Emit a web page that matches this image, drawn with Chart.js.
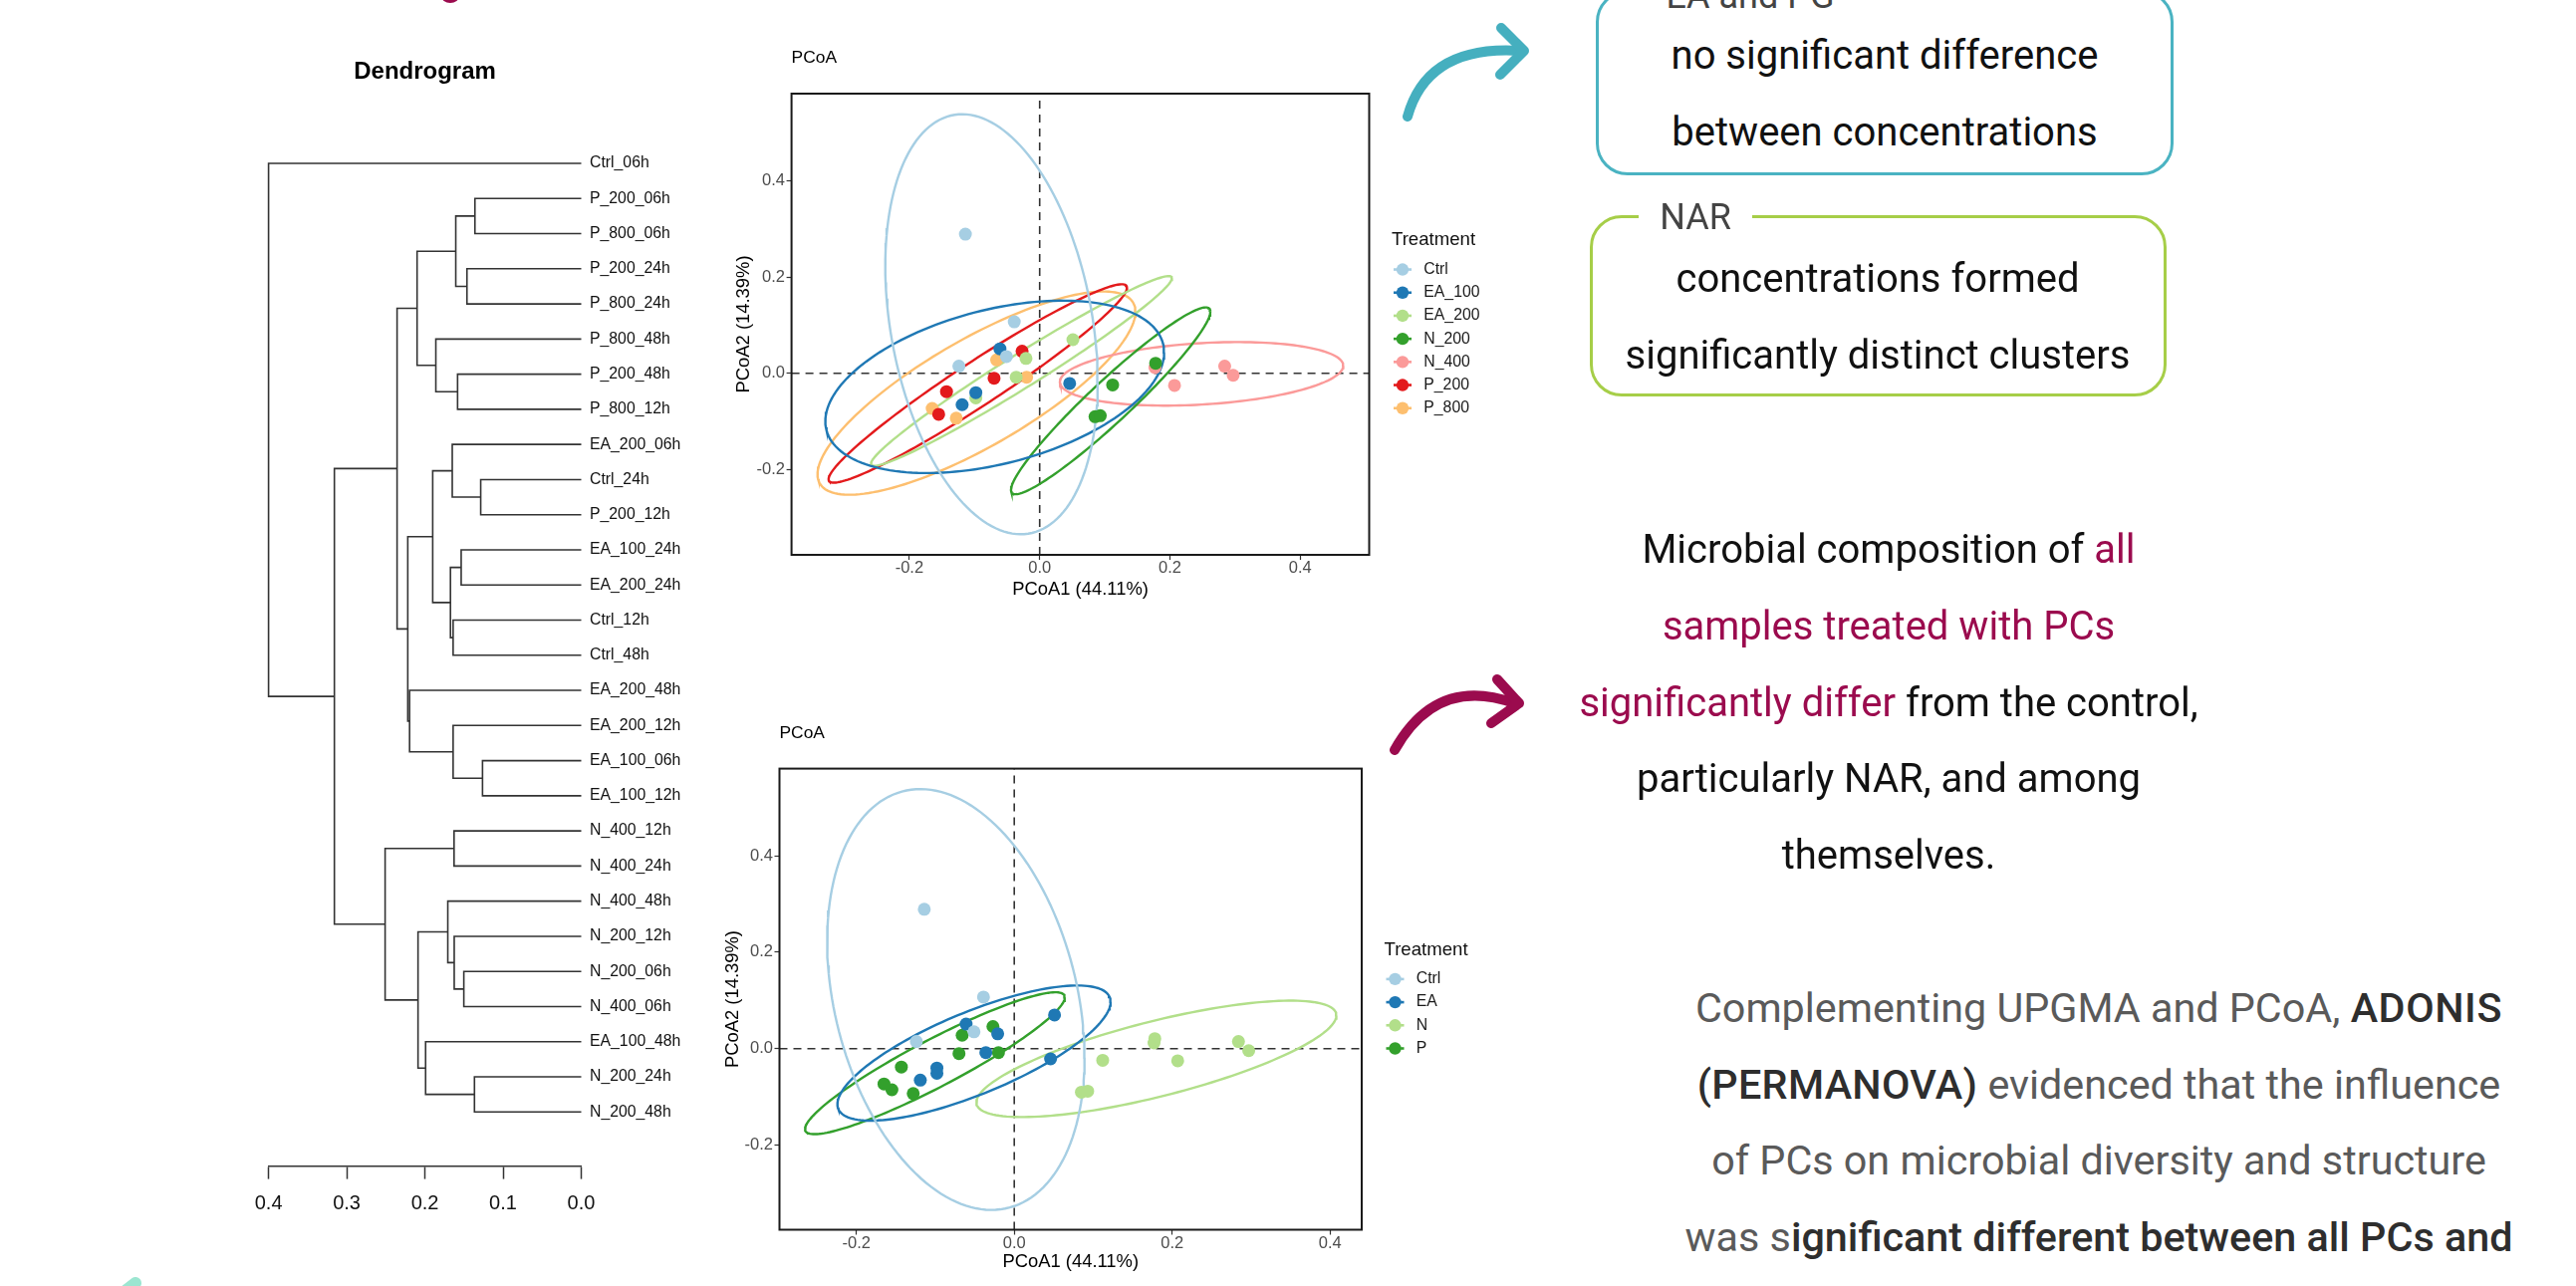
<!DOCTYPE html>
<html><head><meta charset="utf-8">
<script src="https://cdn.jsdelivr.net/npm/chart.js@4.4.1/dist/chart.umd.min.js"></script>
<style>
html,body{margin:0;padding:0;background:#fff;}
body{width:2586px;height:1291px;position:relative;overflow:hidden;font-family:Roboto,"Noto Sans",sans-serif;}
canvas{position:absolute;}
.txt{position:absolute;text-align:center;font-family:Roboto,sans-serif;font-weight:400;font-size:40px;white-space:nowrap;}
.mag{color:#9B0B4E;}
.dk{color:#2e2e2e;font-weight:500;}
.box{position:absolute;box-sizing:border-box;border-radius:32px;}
.lab{position:absolute;text-align:center;font-family:Roboto,sans-serif;font-size:36px;line-height:36px;height:36px;color:#444;background:#fff;white-space:nowrap;}
</style></head>
<body>
<canvas id="dendro" width="700" height="1291" style="left:0;top:0"></canvas>
<canvas id="pcoa1" width="900" height="640" style="left:700px;top:0"></canvas>
<canvas id="pcoa2" width="900" height="651" style="left:700px;top:640px"></canvas>

<div class="box" style="left:1602px;top:-10px;width:580px;height:186px;border:3px solid #4AB3C2;"></div>
<div class="lab" style="left:1652px;top:-22px;width:210px;background:transparent;">EA and PG</div>
<div class="txt" style="left:1612px;width:560px;top:18px;line-height:76.7px;color:#111;">no significant difference<br>between concentrations</div>

<div class="box" style="left:1596px;top:216px;width:579px;height:182px;border:3px solid #A6CE48;"></div>
<div class="lab" style="left:1645px;top:199.7px;width:114px;">NAR</div>
<div class="txt" style="left:1605px;width:560px;top:241px;line-height:77px;color:#111;">concentrations formed<br>significantly distinct clusters</div>

<div class="txt" style="left:1496px;width:800px;top:514px;line-height:76.8px;color:#111;">Microbial composition of <span class="mag">all</span><br><span class="mag">samples treated with PCs</span><br><span class="mag">significantly differ</span> from the control,<br>particularly NAR, and among<br>themselves.</div>

<div class="txt" style="left:1637px;width:940px;top:974px;line-height:76.5px;font-size:41.3px;color:#5a5a5a;">Complementing UPGMA and PCoA, <span class="dk" style="letter-spacing:0.6px">ADONIS</span><br><span class="dk" style="letter-spacing:0.3px">(PERMANOVA)</span> evidenced that the influence<br>of PCs on microbial diversity and structure<br>was s<span class="dk">ignificant different between all PCs and</span></div>

<svg width="2586" height="1291" style="position:absolute;left:0;top:0;pointer-events:none">
  <g fill="none" stroke="#45AFBF" stroke-width="10" stroke-linecap="round" stroke-linejoin="round">
    <path d="M1413,117 Q1433,45 1526,51"/>
    <path d="M1507,28 L1530,51 L1506,75"/>
  </g>
  <g fill="none" stroke="#9B0B4E" stroke-width="10" stroke-linecap="round" stroke-linejoin="round">
    <path d="M1400,753 Q1442,678 1520,706"/>
    <path d="M1503,682 L1525,706 L1497,726"/>
  </g>
  <ellipse cx="452" cy="-4" rx="9" ry="7" fill="#9B0B4E"/>
  <line x1="118" y1="1302" x2="136" y2="1288" stroke="#9CE6D1" stroke-width="12" stroke-linecap="round"/>
</svg>

<script>
// ---------------- DATA ----------------
const leaves = ['Ctrl_06h','P_200_06h','P_800_06h','P_200_24h','P_800_24h','P_800_48h','P_200_48h','P_800_12h',
  'EA_200_06h','Ctrl_24h','P_200_12h','EA_100_24h','EA_200_24h','Ctrl_12h','Ctrl_48h','EA_200_48h','EA_200_12h',
  'EA_100_06h','EA_100_12h','N_400_12h','N_400_24h','N_400_48h','N_200_12h','N_200_06h','N_400_06h','EA_100_48h',
  'N_200_24h','N_200_48h'];
const mergeLeft  = ['EA_100_06h','Ctrl_24h','P_200_06h','N_200_24h','P_200_24h','N_200_06h','EA_100_24h','P_200_48h',
  'm2','N_400_12h','N_200_12h','Ctrl_12h','EA_200_12h','EA_200_06h','m6','N_400_48h','P_800_48h','m13','EA_100_48h',
  'm15','m8','EA_200_48h','m17','m20','m9','m23','Ctrl_06h'];
const mergeRight = ['EA_100_12h','P_200_12h','P_800_06h','N_200_48h','P_800_24h','N_400_06h','EA_200_24h','P_800_12h',
  'm4','N_400_24h','m5','Ctrl_48h','m0','m1','m11','m10','m7','m14','m3','m18','m16','m12','m21','m22','m19','m24','m25'];
const mergeHeight = [0.1263,0.1286,0.136,0.1366,0.1462,0.1502,0.1536,0.1582,0.1605,0.1627,0.1625,0.1639,0.1639,0.165,
  0.1673,0.1707,0.186,0.190,0.1991,0.2088,0.210,0.2196,0.2219,0.2356,0.2509,0.3158,0.400];
const dendroTicks = [0, 0.1, 0.2, 0.3, 0.4];

const sampleGroup = ['Ctrl','Ctrl','Ctrl','Ctrl','EA_100','EA_100','EA_100','EA_100','EA_200','EA_200','EA_200','EA_200',
  'N_200','N_200','N_200','N_200','N_400','N_400','N_400','N_400','P_200','P_200','P_200','P_200','P_800','P_800','P_800','P_800'];
const pc1 = [-0.114,-0.039,-0.124,-0.051, -0.061,-0.119,-0.098,0.046, 0.051,-0.021,-0.036,-0.098,
  0.178,0.112,0.085,0.093, 0.177,0.207,0.284,0.297, -0.027,-0.070,-0.143,-0.155, -0.066,-0.020,-0.165,-0.128];
const pc2 = [0.289,0.107,0.015,0.035, 0.051,-0.065,-0.040,-0.021, 0.070,0.031,-0.008,-0.051,
  0.021,-0.024,-0.090,-0.088, 0.012,-0.025,0.015,-0.004, 0.046,-0.010,-0.038,-0.085, 0.028,-0.008,-0.073,-0.093];

const treat1 = ['Ctrl','EA_100','EA_200','N_200','N_400','P_200','P_800'];
const colors1 = ['#A6CEE3','#1F78B4','#B2DF8A','#33A02C','#FB9A99','#E31A1C','#FDBF6F'];
const treat2 = ['Ctrl','EA','N','P'];
const colors2 = ['#A6CEE3','#1F78B4','#B2DF8A','#33A02C'];

// ellipse parameters: centre, half extents, correlation
const ell1CX = [-0.074,-0.069,-0.028,0.109,0.2485,-0.095,-0.097];
const ell1CY = [0.102,-0.028,0.005,-0.057,-0.001,-0.021,-0.041];
const ell1HX = [0.163,0.260,0.231,0.153,0.2175,0.229,0.244];
const ell1HY = [0.436,0.179,0.197,0.194,0.066,0.206,0.211];
const ell1R  = [-0.276,0.40,0.978,0.954,0.255,0.965,0.80];
const ell2CX = [-0.074,-0.051,0.180,-0.1005];
const ell2CY = [0.102,-0.009,-0.021,-0.030];
const ell2HX = [0.163,0.173,0.228,0.1645];
const ell2HY = [0.436,0.140,0.1206,0.147];
const ell2R  = [-0.276,0.757,0.746,0.927];

const pcoaTicks = [-0.2, 0.0, 0.2, 0.4];

// ---------------- HELPERS ----------------
Chart.defaults.font.family = '"Liberation Sans", Arial, sans-serif';
const FONT = '"Liberation Sans", Arial, sans-serif';

function ellipsePts(cx, cy, hx, hy, r) {
  const s = Math.sqrt(1 - r * r), out = [];
  for (let i = 0; i <= 160; i++) {
    const t = 2 * Math.PI * i / 160;
    out.push({x: cx + hx * Math.cos(t), y: cy + hy * (r * Math.cos(t) + s * Math.sin(t))});
  }
  return out;
}

// ---------------- DENDROGRAM ----------------
(function () {
  const nodeY = {}, nodeH = {};
  leaves.forEach((l, i) => { nodeY[l] = i; nodeH[l] = 0; });
  const datasets = [];
  mergeHeight.forEach((h, k) => {
    const a = mergeLeft[k], b = mergeRight[k];
    const ya = nodeY[a], yb = nodeY[b];
    nodeY['m' + k] = (ya + yb) / 2; nodeH['m' + k] = h;
    datasets.push({
      data: [{x: nodeH[a], y: ya}, {x: h, y: ya}, {x: h, y: yb}, {x: nodeH[b], y: yb}],
      showLine: true, pointRadius: 0, borderColor: '#333', borderWidth: 1.6, clip: false, tension: 0
    });
  });
  const titlePlugin = {
    id: 'dtitle',
    afterDraw(chart) {
      const {ctx, chartArea: a} = chart;
      ctx.save();
      ctx.fillStyle = '#000'; ctx.font = 'bold 24px ' + FONT;
      ctx.textAlign = 'center'; ctx.textBaseline = 'middle';
      ctx.fillText('Dendrogram', (a.left + a.right) / 2, 72);
      ctx.restore();
    }
  };
  new Chart(document.getElementById('dendro'), {
    type: 'scatter',
    data: {datasets},
    plugins: [titlePlugin],
    options: {
      responsive: false, animation: false, devicePixelRatio: 1,
      layout: {padding: {left: 269.6, top: 130, right: 0, bottom: 0}},
      plugins: {legend: {display: false}, tooltip: {enabled: false}},
      scales: {
        x: {
          type: 'linear', reverse: true, min: 0, max: 0.4,
          afterBuildTicks: s => { s.ticks = dendroTicks.map(v => ({value: v})); },
          afterFit: s => { s.height = 120; },
          ticks: {callback: v => v.toFixed(1), color: '#111', padding: 15, font: {size: 20, lineHeight: 1}},
          grid: {display: true, drawOnChartArea: false, drawTicks: true, tickLength: 12.6, tickColor: '#333', tickWidth: 1.5},
          border: {display: true, color: '#333', width: 1.5}
        },
        y: {
          type: 'linear', position: 'right', reverse: true, min: -0.964, max: 28.551,
          afterBuildTicks: s => { s.ticks = leaves.map((_, i) => ({value: i})); },
          afterFit: s => { s.width = 116.5; },
          ticks: {autoSkip: false, callback: v => leaves[Math.round(v)], color: '#111', padding: 8.5, font: {size: 15.8, lineHeight: 1}},
          grid: {display: false, drawTicks: false},
          border: {display: false}
        }
      }
    }
  });
})();

// ---------------- PCoA ----------------
const decor = {
  id: 'decor',
  afterDraw(chart, args, o) {
    const {ctx, chartArea: a} = chart;
    ctx.save();
    ctx.strokeStyle = '#1a1a1a'; ctx.lineWidth = 2;
    ctx.strokeRect(a.left, a.top, a.right - a.left, a.bottom - a.top);
    ctx.fillStyle = '#000'; ctx.textAlign = 'left'; ctx.textBaseline = 'middle';
    ctx.font = '17.4px ' + FONT;
    ctx.fillText('PCoA', a.left, a.top - 35.5);
    const n = o.groups.length, step = 23.2;
    const cy = (a.top + a.bottom) / 2;
    const first = cy - ((n - 1) * step - 29.3) / 2;
    ctx.font = '18.6px ' + FONT; ctx.fillStyle = '#111';
    ctx.fillText('Treatment', a.right + 22.5, first - 29.3);
    o.groups.forEach((g, i) => {
      const y = first + i * step, x = a.right + 33.5;
      ctx.strokeStyle = o.colors[i]; ctx.lineWidth = 2.6;
      ctx.beginPath(); ctx.moveTo(x - 9, y); ctx.lineTo(x + 9, y); ctx.stroke();
      ctx.fillStyle = o.colors[i];
      ctx.beginPath(); ctx.arc(x, y, 6.2, 0, 2 * Math.PI); ctx.fill();
      ctx.fillStyle = '#1a1a1a'; ctx.font = '15.8px ' + FONT;
      ctx.fillText(g, a.right + 54.8, y);
    });
    ctx.restore();
  }
};

function buildPcoa(id, groups, colors, groupOf, E, xr, yr, L) {
  const datasets = [];
  const dash = {showLine: true, pointRadius: 0, borderColor: '#333', borderWidth: 1.6, borderDash: [8, 6], order: 3};
  datasets.push(Object.assign({data: [{x: xr[0], y: 0}, {x: xr[1], y: 0}]}, dash));
  datasets.push(Object.assign({data: [{x: 0, y: yr[0]}, {x: 0, y: yr[1]}]}, dash));
  groups.forEach((g, gi) => {
    datasets.push({data: ellipsePts(E[0][gi], E[1][gi], E[2][gi], E[3][gi], E[4][gi]),
      showLine: true, pointRadius: 0, borderColor: colors[gi], borderWidth: 2.4, tension: 0, order: 2});
  });
  groups.forEach((g, gi) => {
    const pts = [];
    sampleGroup.forEach((sg, i) => { if (groupOf(sg) === g) pts.push({x: pc1[i], y: pc2[i]}); });
    datasets.push({label: g, data: pts, showLine: false, pointRadius: 6.5, pointBackgroundColor: colors[gi],
      pointBorderWidth: 0, pointBorderColor: colors[gi], order: 1});
  });
  const tickFont = {size: 16.5, lineHeight: 1};
  new Chart(document.getElementById(id), {
    type: 'scatter',
    data: {datasets},
    plugins: [decor],
    options: {
      responsive: false, animation: false, devicePixelRatio: 1,
      layout: {padding: {left: 0, top: L.top, right: L.right, bottom: 0}},
      plugins: {legend: {display: false}, tooltip: {enabled: false}, decor: {groups, colors}},
      scales: {
        x: {
          type: 'linear', min: xr[0], max: xr[1],
          afterBuildTicks: s => { s.ticks = pcoaTicks.map(v => ({value: v})); },
          afterFit: s => { s.height = L.xh; },
          ticks: {callback: v => v.toFixed(1), color: '#4D4D4D', padding: 0.5, font: tickFont},
          grid: {display: true, drawOnChartArea: false, drawTicks: true, tickLength: 5, tickColor: '#333', tickWidth: 1.2},
          border: {display: false},
          title: {display: true, text: 'PCoA1 (44.11%)', color: '#000', font: {size: 18.4}, padding: {top: 0, bottom: L.xtp}}
        },
        y: {
          type: 'linear', min: yr[0], max: yr[1],
          afterBuildTicks: s => { s.ticks = pcoaTicks.map(v => ({value: v})); },
          afterFit: s => { s.width = L.yw; },
          ticks: {callback: v => v.toFixed(1), color: '#4D4D4D', padding: 1.6, font: tickFont},
          grid: {display: true, drawOnChartArea: false, drawTicks: true, tickLength: 5, tickColor: '#333', tickWidth: 1.2},
          border: {display: false},
          title: {display: true, text: 'PCoA2 (14.39%)', color: '#000', font: {size: 18.4}, padding: {top: L.ytp, bottom: 0}}
        }
      }
    }
  });
}

buildPcoa('pcoa1', treat1, colors1, g => g,
  [ell1CX, ell1CY, ell1HX, ell1HY, ell1R],
  [-0.3809, 0.5058], [-0.3768, 0.5808],
  {top: 94, right: 225.5, xh: 83, yw: 94.6, xtp: 37.5, ytp: 36});

buildPcoa('pcoa2', treat2, colors2, g => g.split('_')[0],
  [ell2CX, ell2CY, ell2HX, ell2HY, ell2R],
  [-0.2974, 0.4401], [-0.3750, 0.5804],
  {top: 131.6, right: 233, xh: 56.5, yw: 82.5, xtp: 13, ytp: 24.6});
</script>
</body></html>
